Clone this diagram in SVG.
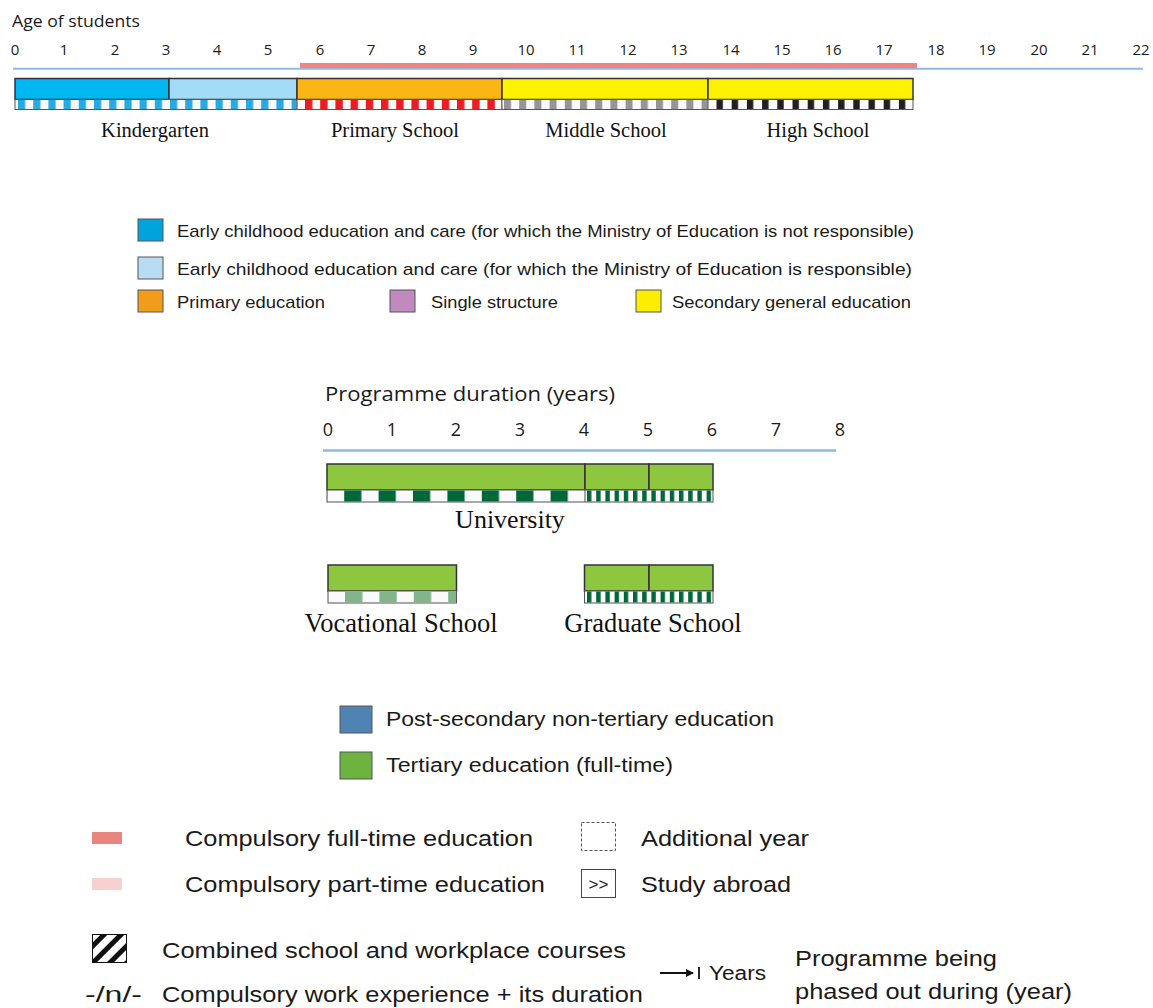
<svg xmlns="http://www.w3.org/2000/svg" width="1153" height="1008" viewBox="0 0 1153 1008">
<defs>
<style>
.axis{font-family:"Open Sans","Liberation Sans",sans-serif;fill:#1a1a1a;}
.tick{font-family:"Open Sans","Liberation Sans",sans-serif;font-size:15px;fill:#1a1a1a;text-anchor:middle;}
.tick2{font-family:"Open Sans","Liberation Sans",sans-serif;font-size:18px;fill:#1a1a1a;text-anchor:middle;}
.lab{font-family:"Liberation Serif","DejaVu Serif",serif;fill:#111;text-anchor:middle;}
.leg{font-family:"Liberation Sans",Arial,sans-serif;fill:#1a1a1a;}
.bar{stroke:#333;stroke-width:1.5;}
.strip{stroke:#555;stroke-width:1;}
.sq{stroke:#555;stroke-width:1;}
</style>
<pattern id="pKg" patternUnits="userSpaceOnUse" x="18" y="0" width="15.2" height="20"><rect x="0" y="0" width="7.2" height="20" fill="#29a9e1"/></pattern>
<pattern id="pPr" patternUnits="userSpaceOnUse" x="305" y="0" width="15.2" height="20"><rect x="0" y="0" width="7.4" height="20" fill="#ed1c24"/></pattern>
<pattern id="pMi" patternUnits="userSpaceOnUse" x="504" y="0" width="15.2" height="20"><rect x="0" y="0" width="7" height="20" fill="#939598"/></pattern>
<pattern id="pHi" patternUnits="userSpaceOnUse" x="716.5" y="0" width="15.2" height="20"><rect x="0" y="0" width="6.4" height="20" fill="#231f20"/></pattern>
<pattern id="pUn" patternUnits="userSpaceOnUse" x="344.2" y="0" width="34.4" height="20"><rect x="0" y="0" width="17.2" height="20" fill="#006838"/></pattern>
<pattern id="pFine" patternUnits="userSpaceOnUse" x="587" y="0" width="9.2" height="20"><rect x="0" y="0" width="4.4" height="20" fill="#006838"/></pattern>
<pattern id="pVo" patternUnits="userSpaceOnUse" x="345" y="0" width="34.4" height="20"><rect x="0" y="0" width="17.4" height="20" fill="#82b58a"/></pattern>
<pattern id="hatch" patternUnits="userSpaceOnUse" x="0" y="0" width="12" height="12" patternTransform="rotate(45)"><rect x="0" y="0" width="5" height="12" fill="#111"/></pattern>
<marker id="arr" markerWidth="8" markerHeight="8" refX="7" refY="4" orient="auto" markerUnits="userSpaceOnUse"><path d="M0,0 L8,4 L0,8 z" fill="#111"/></marker>
</defs>
<rect x="0" y="0" width="1153" height="1008" fill="#ffffff"/>

<g id="age-axis">
<text class="axis" x="12" y="27" font-size="16" textLength="128" lengthAdjust="spacingAndGlyphs">Age of students</text>
<text class="tick" x="15" y="55">0</text>
<text class="tick" x="64" y="55">1</text>
<text class="tick" x="115" y="55">2</text>
<text class="tick" x="166" y="55">3</text>
<text class="tick" x="217" y="55">4</text>
<text class="tick" x="268" y="55">5</text>
<text class="tick" x="320" y="55">6</text>
<text class="tick" x="371" y="55">7</text>
<text class="tick" x="422" y="55">8</text>
<text class="tick" x="473" y="55">9</text>
<text class="tick" x="526" y="55">10</text>
<text class="tick" x="577" y="55">11</text>
<text class="tick" x="628" y="55">12</text>
<text class="tick" x="679" y="55">13</text>
<text class="tick" x="731" y="55">14</text>
<text class="tick" x="782" y="55">15</text>
<text class="tick" x="833" y="55">16</text>
<text class="tick" x="884" y="55">17</text>
<text class="tick" x="936" y="55">18</text>
<text class="tick" x="987" y="55">19</text>
<text class="tick" x="1039" y="55">20</text>
<text class="tick" x="1090" y="55">21</text>
<text class="tick" x="1141" y="55">22</text>
<line x1="13" y1="68.8" x2="1143" y2="68.8" stroke="#8fb8e6" stroke-width="2"/>
<line x1="300" y1="65.5" x2="917" y2="65.5" stroke="#f08383" stroke-width="5"/>
</g>

<g id="kindergarten">
<rect class="bar" x="15" y="78.5" width="154" height="21" fill="#00b7f1"/>
<rect class="bar" x="169" y="78.5" width="128" height="21" fill="#a2dcf7"/>
<rect class="strip" x="15" y="99.5" width="282" height="10" fill="#fafafa"/>
<rect x="15.5" y="100" width="281" height="9" fill="url(#pKg)"/>
<text class="lab" x="155" y="137" font-size="20.5">Kindergarten</text>
</g>
<g id="primary-school">
<rect class="bar" x="297" y="78.5" width="205" height="21" fill="#fbb616"/>
<rect class="strip" x="297" y="99.5" width="205" height="10" fill="#fafafa"/>
<rect x="297.5" y="100" width="204" height="9" fill="url(#pPr)"/>
<text class="lab" x="395" y="137" font-size="20.5">Primary School</text>
</g>
<g id="middle-school">
<rect class="bar" x="502" y="78.5" width="206" height="21" fill="#fff200"/>
<rect class="strip" x="502" y="99.5" width="206" height="10" fill="#fafafa"/>
<rect x="502.5" y="100" width="205" height="9" fill="url(#pMi)"/>
<text class="lab" x="606" y="137" font-size="20.5">Middle School</text>
</g>
<g id="high-school">
<rect class="bar" x="708" y="78.5" width="205" height="21" fill="#fff200"/>
<rect class="strip" x="708" y="99.5" width="205" height="10" fill="#fafafa"/>
<rect x="708.5" y="100" width="204" height="9" fill="url(#pHi)"/>
<text class="lab" x="818" y="137" font-size="20.5">High School</text>
</g>

<g id="legend-levels">
<rect class="sq" x="138" y="219" width="25" height="22" fill="#00a4dc"/>
<text class="leg" x="177" y="237" font-size="17" textLength="737" lengthAdjust="spacingAndGlyphs">Early childhood education and care (for which the Ministry of Education is not responsible)</text>
<rect class="sq" x="138" y="257" width="25" height="22" fill="#b8dcf4"/>
<text class="leg" x="177" y="275" font-size="17" textLength="735" lengthAdjust="spacingAndGlyphs">Early childhood education and care (for which the Ministry of Education is responsible)</text>
<rect class="sq" x="138" y="290" width="25" height="22" fill="#f39c1c"/>
<text class="leg" x="177" y="308" font-size="17" textLength="148" lengthAdjust="spacingAndGlyphs">Primary education</text>
<rect class="sq" x="390" y="290" width="25" height="22" fill="#c08abe"/>
<text class="leg" x="431" y="308" font-size="17" textLength="127" lengthAdjust="spacingAndGlyphs">Single structure</text>
<rect class="sq" x="636" y="290" width="25" height="22" fill="#ffed00"/>
<text class="leg" x="672" y="308" font-size="17" textLength="239" lengthAdjust="spacingAndGlyphs">Secondary general education</text>
</g>

<g id="duration-axis">
<text class="axis" x="325" y="401" font-size="20" textLength="290" lengthAdjust="spacingAndGlyphs">Programme duration (years)</text>
<text class="tick2" x="328" y="436">0</text>
<text class="tick2" x="392" y="436">1</text>
<text class="tick2" x="456" y="436">2</text>
<text class="tick2" x="520" y="436">3</text>
<text class="tick2" x="584" y="436">4</text>
<text class="tick2" x="648" y="436">5</text>
<text class="tick2" x="712" y="436">6</text>
<text class="tick2" x="776" y="436">7</text>
<text class="tick2" x="840" y="436">8</text>
<line x1="323" y1="450.5" x2="836" y2="450.5" stroke="#8fb8e6" stroke-width="2.5"/>
</g>

<g id="university">
<rect class="bar" x="327" y="464" width="258" height="26" fill="#8dc63f"/>
<rect class="bar" x="585" y="464" width="64" height="26" fill="#8dc63f"/>
<rect class="bar" x="649" y="464" width="64" height="26" fill="#8dc63f"/>
<rect class="strip" x="327" y="490" width="386" height="12" fill="#fafafa"/>
<rect x="327.5" y="490.5" width="257.5" height="11" fill="url(#pUn)"/>
<rect x="585.5" y="490.5" width="127" height="11" fill="url(#pFine)"/>
<line x1="585" y1="490" x2="585" y2="502" stroke="#555" stroke-width="1"/>
<text class="lab" x="510" y="528" font-size="26">University</text>
</g>

<g id="vocational-school">
<rect class="bar" x="328" y="565" width="128.5" height="26" fill="#8dc63f"/>
<rect class="strip" x="328" y="591" width="128.5" height="12" fill="#fafafa"/>
<rect x="328.5" y="591.5" width="127.5" height="11" fill="url(#pVo)"/>
<text class="lab" x="401" y="632" font-size="26.5">Vocational School</text>
</g>

<g id="graduate-school">
<rect class="bar" x="584.5" y="565" width="64.5" height="26" fill="#8dc63f"/>
<rect class="bar" x="649" y="565" width="64" height="26" fill="#8dc63f"/>
<rect class="strip" x="584.5" y="591" width="128.5" height="12" fill="#fafafa"/>
<rect x="585" y="591.5" width="127.5" height="11" fill="url(#pFine)"/>
<text class="lab" x="653" y="632" font-size="26.5">Graduate School</text>
</g>

<g id="legend-tertiary">
<rect class="sq" x="340" y="706" width="32" height="27" fill="#4f84b2"/>
<text class="leg" x="386" y="726" font-size="20" textLength="388" lengthAdjust="spacingAndGlyphs">Post-secondary non-tertiary education</text>
<rect class="sq" x="340" y="752" width="32" height="27" fill="#6db33f"/>
<text class="leg" x="386" y="772" font-size="20" textLength="287" lengthAdjust="spacingAndGlyphs">Tertiary education (full-time)</text>
</g>

<g id="legend-symbols">
<rect x="92" y="832" width="30" height="12" fill="#e8857e"/>
<text class="leg" x="185" y="846" font-size="22" textLength="348" lengthAdjust="spacingAndGlyphs">Compulsory full-time education</text>
<rect x="92" y="878" width="30" height="12" fill="#f9d0d0"/>
<text class="leg" x="185" y="892" font-size="22" textLength="360" lengthAdjust="spacingAndGlyphs">Compulsory part-time education</text>
<rect x="581.5" y="822.5" width="34" height="28" fill="none" stroke="#555" stroke-width="1" stroke-dasharray="3,2"/>
<text class="leg" x="641" y="846" font-size="22" textLength="168" lengthAdjust="spacingAndGlyphs">Additional year</text>
<rect x="581.5" y="869.5" width="34" height="28" fill="#fff" stroke="#444" stroke-width="1"/>
<text class="leg" x="598.5" y="890" font-size="17" text-anchor="middle">&gt;&gt;</text>
<text class="leg" x="641" y="892" font-size="22" textLength="150" lengthAdjust="spacingAndGlyphs">Study abroad</text>
<rect x="92.5" y="934.5" width="34" height="28" fill="url(#hatch)" stroke="#111" stroke-width="1"/>
<text class="leg" x="162" y="958" font-size="22" textLength="464" lengthAdjust="spacingAndGlyphs">Combined school and workplace courses</text>
<text class="leg" x="85" y="1002" font-size="22" textLength="57" lengthAdjust="spacingAndGlyphs">-/n/-</text>
<text class="leg" x="162" y="1002" font-size="22" textLength="481" lengthAdjust="spacingAndGlyphs">Compulsory work experience + its duration</text>
<line x1="660" y1="973" x2="693" y2="973" stroke="#111" stroke-width="2" marker-end="url(#arr)"/>
<line x1="699" y1="967" x2="699" y2="979" stroke="#111" stroke-width="1.8"/>
<text class="leg" x="709" y="980" font-size="20" textLength="57" lengthAdjust="spacingAndGlyphs">Years</text>
<text class="leg" x="795" y="966" font-size="22" textLength="202" lengthAdjust="spacingAndGlyphs">Programme being</text>
<text class="leg" x="795" y="999" font-size="22" textLength="277" lengthAdjust="spacingAndGlyphs">phased out during (year)</text>
</g>
</svg>
